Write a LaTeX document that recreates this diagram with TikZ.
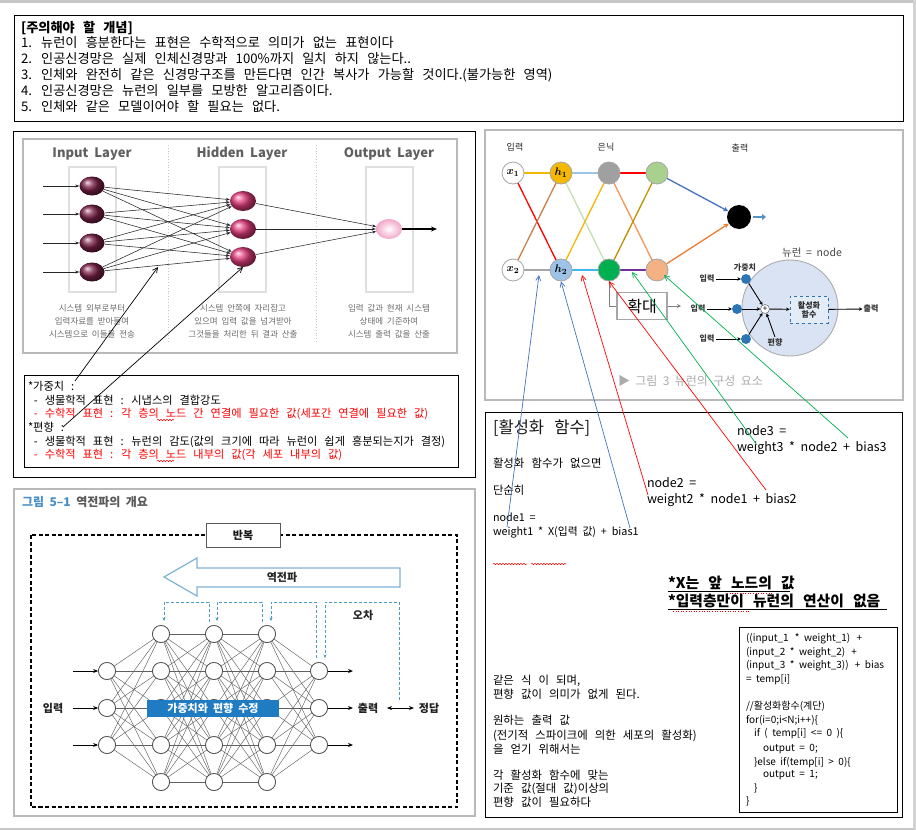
\documentclass[tikz,border=0pt]{standalone}
\usepackage{fontspec}
\setmainfont{Noto Sans CJK KR}[WordSpace=2]
\usetikzlibrary{shapes.geometric,arrows.meta,decorations.pathmorphing}
\newcommand{\myfs}[1]{\fontsize{#1}{#1}\selectfont}
\newcommand{\ks}{\spaceskip=0.62em\relax}
\definecolor{inmar}{HTML}{7A2048}
\definecolor{hidpink}{HTML}{E23C7C}
\definecolor{outpink}{HTML}{F2A6C8}
\definecolor{ttlblue}{HTML}{4A8FC7}
\definecolor{barblue}{HTML}{1F7CC3}
\definecolor{fbblue}{HTML}{4E9BC0}
\definecolor{arrblue}{HTML}{7FB2D3}
\definecolor{cgold}{HTML}{F5B800}
\definecolor{clblue}{HTML}{9DC3E6}
\definecolor{cgray}{HTML}{A0A0A0}
\definecolor{cgreen}{HTML}{00B050}
\definecolor{clgreen}{HTML}{A9D18E}
\definecolor{cpeach}{HTML}{F4B183}
\definecolor{corange}{HTML}{ED7D31}
\definecolor{cbrown}{HTML}{C9804A}
\definecolor{colive}{HTML}{BF9000}
\definecolor{cpurple}{HTML}{7030A0}
\definecolor{ccyan}{HTML}{3FB6EE}
\definecolor{cblue}{HTML}{4472C4}
\definecolor{dotblue}{HTML}{2E75B6}
\definecolor{nfill}{HTML}{DAE3F3}
\definecolor{actfill}{HTML}{E3ECF7}
\definecolor{lgreen}{HTML}{C5E0B4}
\tikzset{
 tx/.style={anchor=base west, inner sep=0pt, outer sep=0pt},
 bx/.style={draw=black, line width=0.9pt},
 gframe/.style={draw=gray!55, line width=1.6pt},
 innode/.style={ellipse, minimum width=25pt, minimum height=19pt, inner sep=0pt, shading=ball, ball color=inmar},
 hidnode/.style={ellipse, minimum width=26pt, minimum height=20pt, inner sep=0pt, shading=ball, ball color=hidpink},
 outnode/.style={ellipse, minimum width=26pt, minimum height=20pt, inner sep=0pt, inner color=white, outer color=outpink},
 nnedge/.style={draw=gray!30!black, line width=0.55pt, -{Stealth[length=4pt,width=3pt]}},
 lbl/.style={font=\myfs{8.5}, text=gray!85!black, inner sep=0pt},
 layerbox/.style={draw=gray!25, line width=1.3pt},
 bpn/.style={circle, draw=gray!60!black, fill=white, minimum size=17pt, inner sep=0pt, line width=0.7pt},
 bpe/.style={draw=gray!75!black, line width=0.45pt},
 fb/.style={draw=fbblue, densely dashed, line width=0.8pt},
 rn/.style={circle, draw=gray!70, line width=0.8pt, minimum size=22pt, inner sep=0pt, font=\myfs{11}\boldmath},
 ce/.style={line width=1.3pt},
 wdot/.style={circle, fill=dotblue, minimum size=10pt, inner sep=0pt},
 small/.style={font=\myfs{8}\bfseries, text=black!80, inner sep=1pt},
 ann/.style={line width=0.7pt, -{Straight Barb[length=5pt,width=5pt]}},
 squig/.style={draw=red, line width=0.5pt, decorate, decoration={snake, amplitude=0.7pt, segment length=3pt}},
 darr/.style={line width=1pt, -{Stealth[length=5pt,width=4pt]}},
 topt/.style={tx, font=\myfs{13.2}\ks},
 redt/.style={tx, font=\myfs{11.2}\ks},
 bodyt/.style={tx, font=\myfs{11.4}\ks},
 codet/.style={tx, font=\myfs{10}},
}
\begin{document}
\begin{tikzpicture}[x=1pt,y=-1pt]
\path[use as bounding box, fill=white] (0,0) rectangle (916,830);
\fill[gray!45] (0,0) rectangle (916,2.5);
\fill[gray!45] (0,828) rectangle (916,830);
\fill[gray!35] (913,0) rectangle (916,830);

% ===== top box =====
\draw[bx] (14,15) rectangle (903,121);
\node[topt, font=\myfs{13.2}\ks\bfseries] (t0) at (21,32) {[주의해야 할 개념]};
\node[topt] (t1) at (21,47.8) {1. 뉴런이 흥분한다는 표현은 수학적으로 의미가 없는 표현이다};
\node[topt] (t2) at (21,63.6) {2. 인공신경망은 실제 인체신경망과 100\%까지 일치 하지 않는다..};
\node[topt] (t3) at (21,79.4) {3. 인체와 완전히 같은 신경망구조를 만든다면 인간 복사가 가능할 것이다.(불가능한 영역)};
\node[topt] (t4) at (21,95.2) {4. 인공신경망은 뉴런의 일부를 모방한 알고리즘이다.};
\node[topt] (t5) at (21,111) {5. 인체와 같은 모델이어야 할 필요는 없다.};

% ===== panel 1 : layers =====
\draw[bx] (13,131) rectangle (475,477);
\draw[gframe] (23,139) rectangle (457,353);
\draw[gray!45, dotted, line width=0.8pt] (168,145) -- (168,343);
\draw[gray!45, dotted, line width=0.8pt] (316,145) -- (316,343);
\draw[layerbox] (69,167) rectangle (116,292);
\draw[layerbox] (219,167) rectangle (266,292);
\draw[layerbox] (366,167) rectangle (413,292);
\node[font=\myfs{13}\bfseries, text=gray!75!black] (L1) at (92,154) {Input Layer};
\node[font=\myfs{13}\bfseries, text=gray!75!black] (L2) at (242,154) {Hidden Layer};
\node[font=\myfs{13}\bfseries, text=gray!75!black] (L3) at (389,154) {Output Layer};
\node[innode] (i1) at (92,186) {};
\node[innode] (i2) at (92,214) {};
\node[innode] (i3) at (92,243) {};
\node[innode] (i4) at (92,272) {};
\node[hidnode] (hh1) at (243,201) {};
\node[hidnode] (hh2) at (243,229) {};
\node[hidnode] (hh3) at (243,257) {};
\node[outnode] (oo) at (389,229) {};
\foreach \i in {1,2,3,4}{\foreach \j in {1,2,3}{\draw[nnedge] (i\i) -- (hh\j);}}
\foreach \j in {1,2,3}{\draw[nnedge] (hh\j) -- (oo);}
\foreach \i/\y in {1/186,2/214,3/243,4/272}{\coordinate (ia\i) at (43,\y); \draw[nnedge] (ia\i) -- (i\i);}
\coordinate (oa) at (437,229);
\draw[line width=1.1pt, -{Stealth[length=6pt,width=5pt]}] (oo) -- (oa);
\node[lbl] (d11) at (92,308) {시스템 외부로부터};
\node[lbl] (d12) at (92,321) {입력자료를 받아들여};
\node[lbl] (d13) at (92,334) {시스템으로 이들을 전송};
\node[lbl] (d21) at (243,308) {시스템 안쪽에 자리잡고};
\node[lbl] (d22) at (243,321) {있으며 입력 값을 넘겨받아};
\node[lbl] (d23) at (243,334) {그것들을 처리한 뒤 결과 산출};
\node[lbl] (d31) at (389,308) {입력 값과 현재 시스템};
\node[lbl] (d32) at (389,321) {상태에 기준하여};
\node[lbl] (d33) at (389,334) {시스템 출력 값을 산출};

% red box
\draw[bx] (24,375) rectangle (458,467);
\node[redt] (r1) at (28,390) {*가중치 :};
\node[redt] (r2) at (34,404) {- 생물학적 표현 : 시냅스의 결합강도};
\node[redt, text=red] (r3) at (34,417.5) {- 수학적 표현 : 각 층의 노드 간 연결에 필요한 값(세포간 연결에 필요한 값)};
\node[redt] (r4) at (28,431) {*편향 :};
\node[redt] (r5) at (34,445) {- 생물학적 표현 : 뉴런의 감도(값의 크기에 따라 뉴런이 쉽게 흥분되는지가 결정)};
\node[redt, text=red] (r6) at (34,458.5) {- 수학적 표현 : 각 층의 노드 내부의 값(각 세포 내부의 값)};
\coordinate (sq1a) at (157,420); \coordinate (sq1b) at (174,420);
\coordinate (sq2a) at (157,461); \coordinate (sq2b) at (174,461);
\draw[squig] (sq1a) -- (sq1b);
\draw[squig] (sq2a) -- (sq2b);
\coordinate (ws) at (75,381); \coordinate (wt) at (158,267);
\coordinate (bs) at (63,427); \coordinate (bt) at (243,267);
\draw[line width=0.7pt, -{Straight Barb[length=5pt,width=5pt]}] (ws) -- (wt);
\draw[line width=0.7pt, -{Straight Barb[length=5pt,width=5pt]}] (bs) -- (bt);

% ===== panel 3 : backprop =====
\draw[draw=gray!55, line width=1.3pt] (14,489) rectangle (475,816);
\node[tx, font=\myfs{12}\bfseries] (fig5) at (22,506) {\textcolor{ttlblue}{그림 5–1} \textcolor{gray!70!black}{역전파의 개요}};
\draw[line width=1.2pt, dash pattern=on 4pt off 2.5pt] (31,535) rectangle (457,807);
\node[draw=gray!70!black, fill=white, line width=1pt, minimum width=74pt, minimum height=24pt, font=\myfs{11}\bfseries, text=gray!20!black] (rep) at (243,535) {반복};
\draw[draw=arrblue, line width=1.2pt, fill=white] (400,568) -- (197,568) -- (197,558) -- (164,577) -- (197,596) -- (197,587) -- (400,587) -- cycle;
\node[font=\myfs{11}\bfseries, text=gray!30!black] (bp) at (282,577) {역전파};
\foreach \i/\y in {1/671,2/708,3/745}{\node[bpn] (a\i) at (107,\y) {};}
\foreach \i/\y in {1/634,2/671,3/708,4/745,5/782}{
  \node[bpn] (b\i) at (161,\y) {};
  \node[bpn] (c\i) at (214,\y) {};
  \node[bpn] (d\i) at (267,\y) {};}
\foreach \i/\y in {1/671,2/708,3/745}{\node[bpn] (e\i) at (319,\y) {};}
\foreach \i in {1,2,3}{\foreach \j in {1,...,5}{\draw[bpe] (a\i) -- (b\j); \draw[bpe] (d\j) -- (e\i);}}
\foreach \i in {1,...,5}{\foreach \j in {1,...,5}{\draw[bpe] (b\i) -- (c\j); \draw[bpe] (c\i) -- (d\j);}}
\foreach \i in {1,2,3}{\node[bpn] at (a\i) {}; \node[bpn] at (e\i) {};}
\foreach \i in {1,...,5}{\node[bpn] at (b\i) {}; \node[bpn] at (c\i) {}; \node[bpn] at (d\i) {};}
\node[fill=barblue, text=white, minimum width=132pt, minimum height=17pt, inner sep=0pt, font=\myfs{11}\bfseries] (bar) at (213,708.5) {가중치와 편향 수정};
\foreach \i/\y in {1/671,2/708,3/745}{
  \coordinate (pin\i) at (73,\y); \draw[darr] (pin\i) -- (a\i);
  \coordinate (pout\i) at (353,\y); \draw[darr] (e\i) -- (pout\i);}
\node[font=\myfs{11}\bfseries, text=gray!25!black] (inl) at (53,708) {입력};
\node[font=\myfs{11}\bfseries, text=gray!25!black] (outl) at (368,708) {출력};
\node[font=\myfs{11}\bfseries, text=gray!25!black] (ansl) at (429,708) {정답};
\coordinate (dd1) at (387,708); \coordinate (dd2) at (414,708);
\draw[line width=1pt, {Stealth[length=5pt,width=4pt]}-{Stealth[length=5pt,width=4pt]}] (dd1) -- (dd2);
\node[font=\myfs{11}\bfseries, text=gray!30!black] (err) at (363,615) {오차};
\coordinate (f1a) at (209,622); \coordinate (f1b) at (164,602); \coordinate (f1c) at (164,621);
\coordinate (f2a) at (262,622); \coordinate (f2b) at (217,602); \coordinate (f2c) at (217,621);
\coordinate (f3a) at (316,658); \coordinate (f3b) at (271,602); \coordinate (f3c) at (271,621);
\coordinate (f4a) at (399,700); \coordinate (f4b) at (325,602); \coordinate (f4c) at (325,658);
\foreach \k in {1,2,3,4}{\draw[fb, -{Stealth[length=3.5pt,width=3pt]}] (f\k a) |- (f\k b) -- (f\k c);}

% ===== panel 2 : neuron =====
\draw[gframe] (485,130) rectangle (903,400);
\node[font=\myfs{9}, text=gray!30!black] (lin) at (515,147) {입력};
\node[font=\myfs{9}, text=gray!30!black] (lhid) at (606,147) {은닉};
\node[font=\myfs{9}, text=gray!30!black] (lout) at (740,148) {출력};
\draw[ce, cgold] (513,173) -- (561,173);
\draw[ce, red] (513,173) -- (561,270);
\draw[ce, cbrown] (513,270) -- (561,173);
\draw[ce, gray!70] (513,270) -- (561,270);
\draw[ce, clblue] (561,173) -- (609,173);
\draw[ce, lgreen] (561,173) -- (609,270);
\draw[ce, cgold] (561,270) -- (609,173);
\draw[ce, ccyan] (561,270) -- (609,270);
\draw[ce, red] (609,173) -- (657,173);
\draw[ce, corange!80] (609,173) -- (657,270);
\draw[ce, colive] (609,270) -- (657,173);
\draw[ce, cpurple] (609,270) -- (657,270);
\node[rn, fill=white] (x1) at (513,173) {$x_1$};
\node[rn, fill=white] (x2) at (513,270) {$x_2$};
\node[rn, fill=cgold] (h1) at (561,173) {$h_1$};
\node[rn, fill=clblue] (h2) at (561,270) {$h_2$};
\node[rn, fill=cgray] (g1) at (609,173) {};
\node[rn, fill=cgreen] (g2) at (609,270) {};
\node[rn, fill=clgreen] (l1) at (657,173) {};
\node[rn, fill=cpeach] (l2) at (657,270) {};
\node[circle, fill=black, minimum size=24pt, inner sep=0pt] (ob) at (739,217) {};
\draw[ce, cblue, -{Stealth[length=5pt,width=5pt]}] (l1) -- (ob);
\draw[ce, corange, -{Stealth[length=5pt,width=5pt]}] (l2) -- (ob);
\coordinate (obs) at (753,217); \coordinate (oba) at (766,217);
\draw[line width=2.6pt, dotblue!80, -{Triangle[length=4pt,width=6pt]}] (obs) -- (oba);
\node[draw=gray!70, line width=1.8pt, fill=white, minimum width=50pt, minimum height=27pt, inner sep=0pt, font=\myfs{16}] (zoomb) at (642,306) {확대};
\draw[gray, line width=1pt] (g2.south) |- (zoomb.west);
\coordinate (za) at (681,306);
\draw[gray, line width=1pt, -{Stealth[length=4pt,width=4pt]}] (zoomb.east) -- (za);
\node[circle, draw=gray!65, fill=nfill, line width=0.9pt, minimum size=96pt, inner sep=0pt] (neu) at (790,308) {};
\node[font=\myfs{10.5}, text=gray!55!black] (neul) at (812,253) {뉴런 = node};
\node[wdot] (w1) at (746,279) {};
\node[wdot] (w2) at (737,309) {};
\node[wdot] (w3) at (746,339) {};
\node[circle, draw=gray!60!black, fill=white, minimum size=9pt, inner sep=0pt, font=\myfs{8}] (plus) at (765,309) {+};
\node[small] (in1) at (707,279) {입력};
\node[small] (in2) at (698,309) {입력};
\node[small] (in3) at (707,339) {입력};
\node[small] (wl) at (745,267) {가중치};
\node[small] (bl) at (775,342) {편향};
\foreach \k in {1,2,3}{\draw[line width=0.9pt, -{Stealth[length=3.5pt,width=3.5pt]}] (in\k) -- (w\k); \draw[line width=0.9pt, -{Stealth[length=3.5pt,width=3.5pt]}] (w\k) -- (plus);}
\draw[line width=0.9pt, -{Stealth[length=3.5pt,width=3.5pt]}] (bl.north) -- (plus);
\node[draw=dotblue, dashed, line width=0.8pt, fill=actfill, minimum width=38pt, minimum height=27pt, inner sep=0pt, align=center, font=\myfs{8}\bfseries, text=gray!30!black] (act) at (809,309.5) {활성화\\[1pt]함수};
\draw[line width=0.9pt, -{Stealth[length=3.5pt,width=3.5pt]}] (plus) -- (act);
\node[small] (ol) at (871,309) {출력};
\draw[line width=0.9pt, -{Stealth[length=3.5pt,width=3.5pt]}] (act) -- (ol);
\node[tx, font=\myfs{12}, text=gray!65] (cap) at (618,385.5) {▶ 그림 3 뉴런의 구성 요소};

% ===== panel 4 : activation =====
\draw[bx] (485,412) rectangle (902,817);
\node[tx, font=\myfs{16.5}\ks, text=gray!20!black] (ah) at (493,433) {[활성화 함수]};
\node[bodyt] (p1) at (493,467) {활성화 함수가 없으면};
\node[bodyt] (p2) at (493,494) {단순히};
\node[tx, font=\myfs{10.8}] (p3) at (493,521) {node1 =};
\node[tx, font=\myfs{10.8}] (p4) at (493,535) {weight1 * X(입력 값) + bias1};
\coordinate (sq3a) at (493,564); \coordinate (sq3b) at (527,564);
\coordinate (sq4a) at (531,564); \coordinate (sq4b) at (566,564);
\draw[squig] (sq3a) -- (sq3b);
\draw[squig] (sq4a) -- (sq4b);
\node[tx, font=\myfs{12.5}] (n2a) at (647,487) {node2 =};
\node[tx, font=\myfs{12.5}] (n2b) at (647,503) {weight2 * node1 + bias2};
\node[tx, font=\myfs{12.5}] (n3a) at (737,435) {node3 =};
\node[tx, font=\myfs{12.5}] (n3b) at (737,451) {weight3 * node2 + bias3};
\node[tx, font=\myfs{14.8}\ks\bfseries] (xa) at (668,588) {*X는 앞 노드의 값};
\node[tx, font=\myfs{14.8}\ks\bfseries] (xb) at (668,606) {*입력층만이 뉴런의 연산이 없음};
\coordinate (u1a) at (668,591); \coordinate (u1b) at (790,591);
\coordinate (u2a) at (668,609); \coordinate (u2b) at (887,609);
\draw[line width=0.9pt] (u1a) -- (u1b);
\draw[line width=0.9pt] (u2a) -- (u2b);
\coordinate (sq5a) at (727,593); \coordinate (sq5b) at (773,593);
\coordinate (sq6a) at (673,611); \coordinate (sq6b) at (750,611);
\draw[red, line width=0.6pt, dotted] (sq5a) -- (sq5b);
\draw[red, line width=0.6pt, dotted] (sq6a) -- (sq6b);
\node[bodyt] (q1) at (493,684) {같은 식 이 되며,};
\node[bodyt] (q2) at (493,698) {편향 값이 의미가 없게 된다.};
\node[bodyt] (q3) at (493,724) {원하는 출력 값};
\node[bodyt] (q4) at (493,739) {(전기적 스파이크에 의한 세포의 활성화)};
\node[bodyt] (q5) at (493,753) {을 얻기 위해서는};
\node[bodyt] (q6) at (493,779) {각 활성화 함수에 맞는};
\node[bodyt] (q7) at (493,792) {기준 값(절대 값)이상의};
\node[bodyt] (q8) at (493,806) {편향 값이 필요하다};
% code box
\draw[bx] (739,627) rectangle (897,812);
\node[codet] (c1) at (746,641) {((input\_1 \,* weight\_1) \,+};
\node[codet] (c2) at (746,655) {(input\_2 * weight\_2) \,+};
\node[codet] (c3) at (746,668) {(input\_3 * weight\_3)) \,+ bias};
\node[codet] (c4) at (746,682) {= temp[i]};
\node[codet] (c5) at (746,709) {//활성화함수(계단)};
\node[codet] (c6) at (746,723) {for(i=0;i<N;i++)\{};
\node[codet] (c7) at (754,736) {if ( temp[i] <= 0 )\{};
\node[codet] (c8) at (763,751) {output = 0;};
\node[codet] (c9) at (754,765) {\}else if(temp[i] > 0)\{};
\node[codet] (c10) at (763,777) {output = 1;};
\node[codet] (c11) at (754,791) {\}};
\node[codet] (c12) at (746,804) {\}};

% annotation lines
\coordinate (b1s) at (507,527); \coordinate (b1t) at (539,275);
\coordinate (b2s) at (630,528);
\coordinate (r1s) at (648,495); \coordinate (r1t) at (582,275);
\coordinate (r2s) at (766,490);
\coordinate (g1s) at (757,445); \coordinate (g1t) at (632,272);
\coordinate (g2s) at (848,438); \coordinate (g2t) at (664,275);
\draw[ann, cblue] (b1s) -- (b1t);
\draw[ann, cblue] (b2s) -- (h2.south);
\draw[ann, red] (r1s) -- (r1t);
\draw[ann, red] (r2s) -- (g2.south);
\draw[ann, cgreen] (g1s) -- (g1t);
\draw[ann, cgreen] (g2s) -- (g2t);
\end{tikzpicture}
\end{document}
